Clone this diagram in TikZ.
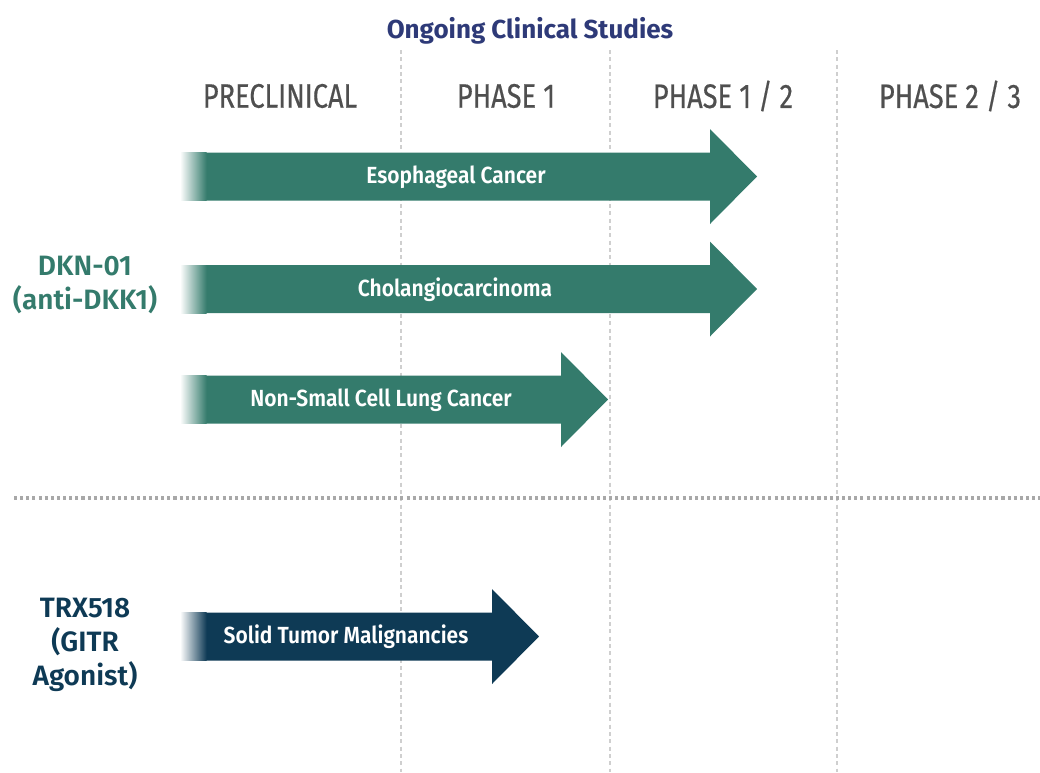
\documentclass[tikz,border=0pt]{standalone}
\usepackage{fontspec}
\setmainfont{Fira Sans}
\newfontfamily\condf[FakeStretch=0.8,FakeBold=0.4]{Fira Sans}
\newfontfamily\condbf[FakeStretch=0.9]{Fira Sans SemiBold}
\newfontfamily\drugf{Fira Sans SemiBold}
\newfontfamily\titlef{Fira Sans Bold}
\definecolor{teal1}{HTML}{347B6C}
\definecolor{navy1}{HTML}{0E3A55}
\definecolor{titleblue}{HTML}{2E3A78}
\definecolor{hdrgrey}{HTML}{4F4F4F}
\definecolor{vline}{HTML}{CFCFCF}
\definecolor{hline}{HTML}{A8A8A8}
\tikzset{
  hdr/.style={text=hdrgrey, font=\condf\fontsize{25.5}{30}\selectfont, anchor=center},
  arrlabel/.style={text=white, font=\condbf\fontsize{17.5}{20}\selectfont, anchor=center},
  druglabel/.style={font=\drugf\fontsize{21}{25.5}\selectfont, align=center, anchor=center},
  vdash/.style={draw=vline, line width=1.2pt, dash pattern=on 3pt off 2.5pt},
  hdash/.style={draw=hline, line width=2.3pt, dash pattern=on 2.3pt off 2.3pt}
}
\begin{document}
\begin{tikzpicture}[x=0.75pt,y=-0.75pt]
\useasboundingbox[fill=white] (0,0) rectangle (1040,772);
% grid lines
\coordinate (v1t) at (401,50); \coordinate (v1b) at (401,772);
\coordinate (v2t) at (610,50); \coordinate (v2b) at (610,772);
\coordinate (v3t) at (837,50); \coordinate (v3b) at (837,772);
\coordinate (hl) at (14,498); \coordinate (hr) at (1040,498);
\draw[vdash] (v1t) -- (v1b);
\draw[vdash] (v2t) -- (v2b);
\draw[vdash] (v3t) -- (v3b);
\draw[hdash] (hl) -- (hr);
% title and headers
\node[text=titleblue, font=\titlef\fontsize{19.5}{22}\selectfont] (title) at (530,31) {Ongoing Clinical Studies};
\node[hdr] (h0) at (280,96) {PRECLINICAL};
\node[hdr] (h1) at (506,96) {PHASE 1};
\node[hdr] (h2) at (723,96) {PHASE 1 / 2};
\node[hdr] (h3) at (950,96) {PHASE 2 / 3};
% arrows
\newcommand{\pipearrow}[4]{% y-center, shaft end, tip, colour
  \fill[#4] (206,#1-24) -- (#2,#1-24) -- (#2,#1-47.5) -- (#3,#1) -- (#2,#1+47.5) -- (#2,#1+24) -- (206,#1+24) -- cycle;
  \shade[left color=white, right color=#4] (180,#1-24) rectangle (206.6,#1+24);
}
\pipearrow{176.5}{710}{757}{teal1}
\pipearrow{289}{710}{757}{teal1}
\pipearrow{399.5}{561}{608}{teal1}
\pipearrow{636.5}{492}{539}{navy1}
\node[arrlabel] (a1) at (456,177) {Esophageal Cancer};
\node[arrlabel] (a2) at (455,290) {Cholangiocarcinoma};
\node[arrlabel] (a3) at (381,400) {Non-Small Cell Lung Cancer};
\node[arrlabel] (a4) at (346,637) {Solid Tumor Malignancies};
% drug labels
\node[druglabel, text=teal1] (d1) at (85,285) {DKN-01\\(anti-DKK1)};
\node[druglabel, text=navy1] (d2) at (85,645) {TRX518\\(GITR\\Agonist)};
\end{tikzpicture}
\end{document}
